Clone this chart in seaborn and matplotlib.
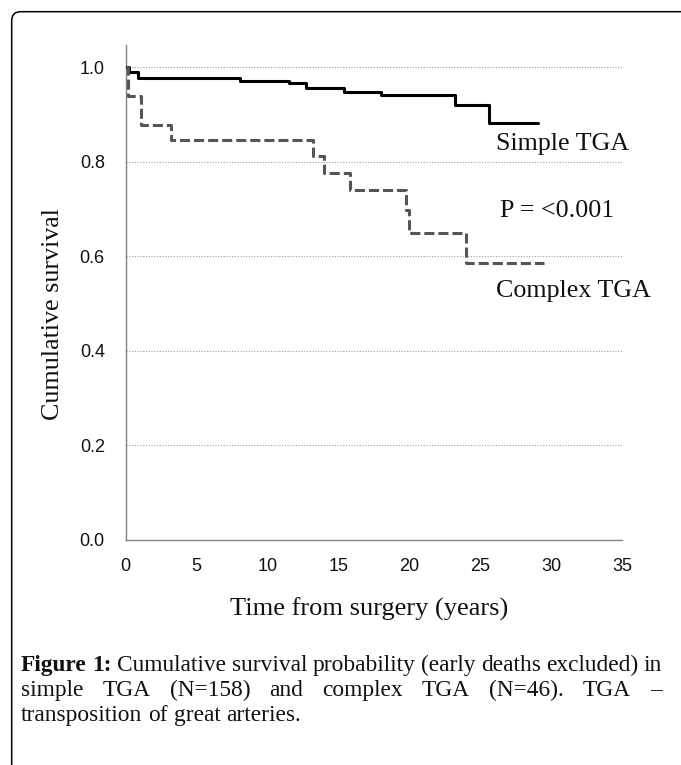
import pandas as pd
import matplotlib.pyplot as plt
import seaborn as sns
from matplotlib.patches import FancyBboxPatch

# Kaplan-Meier steps
simple_time = [0, 0.26, 0.85, 8.05, 11.5, 12.75, 15.4, 18.0, 23.2, 25.6, 29.1]
simple_surv = [1.0, 0.989, 0.978, 0.972, 0.966, 0.957, 0.948, 0.941, 0.921, 0.883, 0.883]
complex_time = [0, 0.14, 1.08, 3.2, 13.2, 14.0, 15.8, 19.8, 20.0, 24.0, 29.5]
complex_surv = [1.0, 0.940, 0.878, 0.847, 0.812, 0.777, 0.740, 0.698, 0.650, 0.587, 0.587]

groups = ["Simple TGA", "Complex TGA"]
x_ticks = [0, 5, 10, 15, 20, 25, 30, 35]
y_ticks = [0.0, 0.2, 0.4, 0.6, 0.8, 1.0]
p_text = "P = <0.001"
x_label = "Time from surgery (years)"
y_label = "Cumulative survival"
caption_lines = [
    ["**Figure", "**1:", "Cumulative", "survival", "probability", "(early", "deaths", "excluded)", "in"],
    ["simple", "TGA", "(N=158)", "and", "complex", "TGA", "(N=46).", "TGA", "\u2013"],
    ["transposition", "of", "great", "arteries."],
]

df = pd.DataFrame({
    "time": simple_time + complex_time,
    "survival": simple_surv + complex_surv,
    "group": [groups[0]] * len(simple_time) + [groups[1]] * len(complex_time),
})

sns.set_style("white")
plt.rcParams["font.family"] = ["Liberation Sans", "DejaVu Sans"]

W, H = 681, 765
fig = plt.figure(figsize=(W / 100, H / 100), dpi=100)

# rounded frame (only top and left edges visible)
frame = FancyBboxPatch((0.117, -0.4), 7.5, 7.533 + 0.4,
                       boxstyle="round,pad=0,rounding_size=0.09",
                       transform=fig.dpi_scale_trans, fill=False,
                       edgecolor="black", linewidth=1.1, clip_on=False)
fig.add_artist(frame)

ax = fig.add_axes([125.7 / W, (H - 540) / H, 496.3 / W, 495 / H])

sns.lineplot(data=df, x="time", y="survival", hue="group", style="group",
             palette={groups[0]: "black", groups[1]: "#555555"},
             dashes={groups[0]: "", groups[1]: (3.3, 1.3)},
             drawstyle="steps-post", linewidth=2.2, legend=False,
             ax=ax, zorder=3)

ax.set_xlim(0, 35)
ax.set_ylim(0, 495 / 472.7)
ax.set_xticks(x_ticks)
ax.set_yticks(y_ticks)
ax.set_yticklabels([f"{v:.1f}" for v in y_ticks])

for v in y_ticks[1:]:
    ax.axhline(v, color="#a0a0a0", linewidth=0.8, linestyle=(0, (1, 1.5)), zorder=1)

for side in ["top", "right"]:
    ax.spines[side].set_visible(False)
for side in ["left", "bottom"]:
    ax.spines[side].set_color("#808080")
    ax.spines[side].set_linewidth(1.0)

ax.tick_params(axis="both", direction="out", length=7, width=1.0, color="#808080",
               labelsize=13, labelcolor="#111111")
ax.tick_params(axis="x", pad=6)
ax.tick_params(axis="y", pad=8)

serif = ["Liberation Serif", "DejaVu Serif"]
ax.set_xlabel(x_label, fontsize=19, family=serif, color="#111111")
ax.xaxis.set_label_coords(0.491, -0.1535)
ax.xaxis.label.set_va("baseline")
ax.set_ylabel(y_label, fontsize=18.7, family=serif, color="#111111")
ax.yaxis.set_label_coords(-0.1455, 0.457)
ax.yaxis.label.set_va("center")

ax.text(26.08, 0.825, groups[0], fontsize=18.7, family=serif, va="baseline", color="#111111")
ax.text(26.4, 0.684, p_text, fontsize=18.7, family=serif, va="baseline", color="#111111")
ax.text(26.08, 0.515, groups[1], fontsize=18.7, family=serif, va="baseline", color="#111111")

# caption, justified like the journal layout
renderer = fig.canvas.get_renderer()


def measure(word, size):
    bold = word.startswith("**")
    t = fig.text(0, 0, word.lstrip("*"), fontsize=size, family=serif,
                 weight="bold" if bold else "normal")
    w = t.get_window_extent(renderer).width
    t.remove()
    return w


left, right = 21, 662
base = 13
sp = measure("a b", base) - measure("ab", base)
natural = sum(measure(w, base) for w in caption_lines[0]) + sp * (len(caption_lines[0]) - 1)
cap_size = base * (right - left) / natural
space = sp * cap_size / base

baselines = [671, 696, 721]
for i, words in enumerate(caption_lines):
    widths = [measure(w, cap_size) for w in words]
    if i < len(caption_lines) - 1:
        gap = (right - left - sum(widths)) / (len(words) - 1)
    else:
        gap = space
    x = left
    for w, wd in zip(words, widths):
        bold = w.startswith("**")
        fig.text(x / W, (H - baselines[i]) / H, w.lstrip("*"), fontsize=cap_size,
                 family=serif, weight="bold" if bold else "normal",
                 va="baseline", ha="left", color="#111111")
        x += wd + gap

fig.savefig("out.png", dpi=100)
